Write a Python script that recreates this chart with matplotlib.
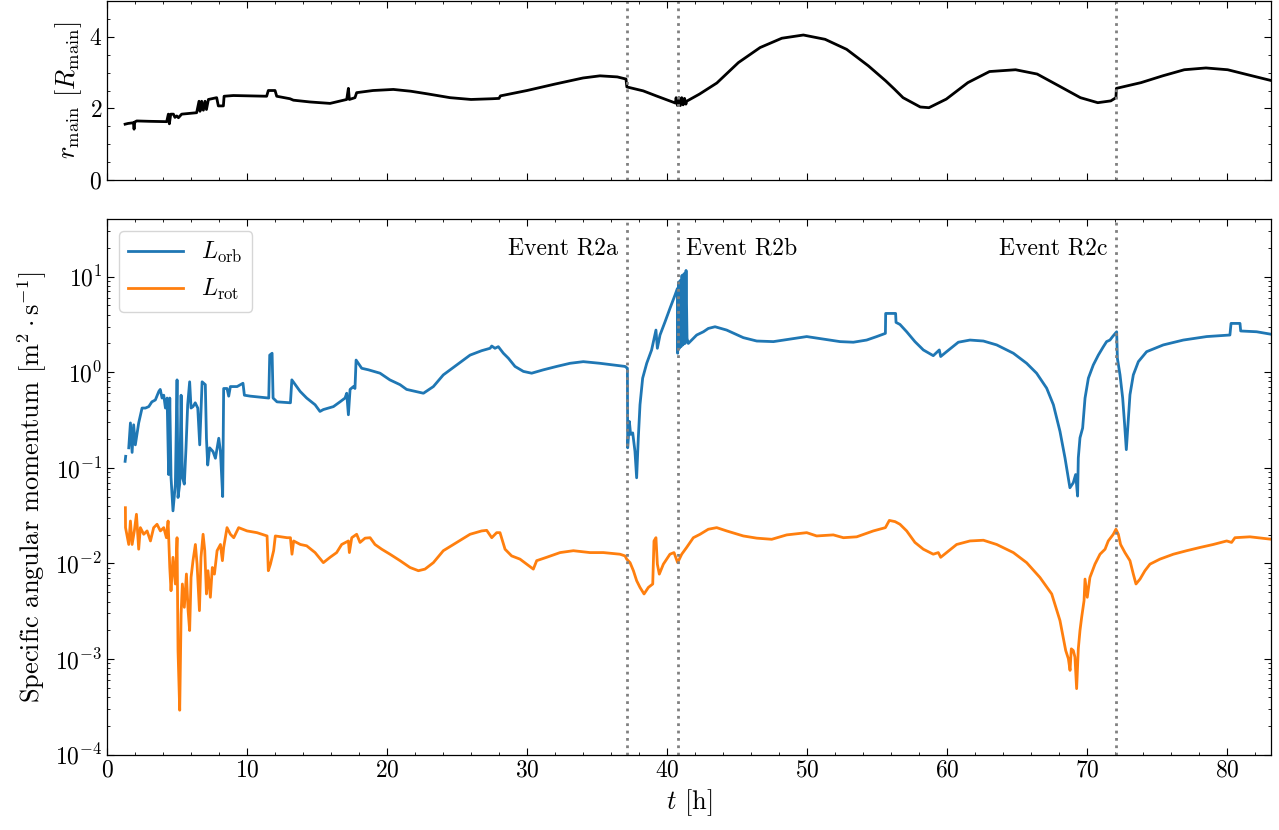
import numpy as np
import matplotlib
matplotlib.use('Agg')
import matplotlib.pyplot as plt
from matplotlib.ticker import MultipleLocator
import matplotlib.transforms as mtransforms

# --- data ---
t_r = [1.29, 1.5, 1.88, 1.93, 1.98, 2.12, 3.0, 4.26, 4.38, 4.45, 4.55, 4.74, 4.85, 4.98, 5.1,
       5.33, 6.4, 6.57, 6.64, 6.76, 6.88, 7.0, 7.1, 7.24, 7.83, 7.95, 8.31, 8.36, 9.02, 11.4,
       11.52, 12.0, 12.12, 13.07, 13.31, 14.5, 15.93, 17.12, 17.24, 17.31, 17.71, 17.83, 19.0,
       20.45, 21.7, 22.83, 24.5, 26.0, 27.5, 28.0, 28.1, 30.0, 32.0, 34.0, 35.21, 36.45, 37.07,
       37.13, 38.3, 39.23, 40.6, 40.65, 40.75, 40.85, 40.95, 41.05, 41.15, 41.25, 41.35, 41.4,
       42.32, 43.56, 45.1, 46.65, 48.2, 49.74, 51.29, 52.83, 54.38, 55.62, 56.24, 56.86, 58.09,
       58.71, 59.95, 61.49, 63.04, 64.9, 66.44, 67.99, 69.53, 70.77, 71.7, 72.07, 72.1, 73.86,
       75.41, 76.95, 78.5, 80.05, 81.59, 83.14]
r_main = [1.56, 1.58, 1.60, 1.42, 1.62, 1.65, 1.64, 1.63, 1.84, 1.57, 1.84, 1.84, 1.75, 1.79, 1.74,
          1.84, 1.88, 2.20, 1.92, 2.20, 1.95, 2.20, 1.97, 2.25, 2.30, 2.07, 2.07, 2.34, 2.36, 2.34,
          2.50, 2.50, 2.34, 2.27, 2.23, 2.18, 2.14, 2.25, 2.56, 2.25, 2.30, 2.44, 2.50,
          2.53, 2.48, 2.41, 2.30, 2.25, 2.27, 2.28, 2.35, 2.50, 2.68, 2.85, 2.91, 2.88, 2.82,
          2.60, 2.49, 2.35, 2.15, 2.30, 2.08, 2.30, 2.08, 2.30, 2.10, 2.28, 2.12, 2.20,
          2.40, 2.71, 3.28, 3.70, 3.96, 4.05, 3.93, 3.65, 3.19, 2.77, 2.54, 2.30, 2.04,
          2.02, 2.26, 2.72, 3.03, 3.08, 2.96, 2.63, 2.30, 2.16, 2.21, 2.30, 2.56, 2.72,
          2.91, 3.08, 3.13, 3.08, 2.93, 2.78]

t_orb = [1.29, 1.33, 1.45, 1.55, 1.67, 1.79, 1.90, 2.02, 2.26, 2.50, 2.74, 2.98, 3.20, 3.45, 3.70,
         3.80, 3.93, 4.05, 4.17, 4.29, 4.40, 4.48, 4.57, 4.71, 4.88, 5.00, 5.07, 5.19, 5.29,
         5.38, 5.52, 5.64, 5.76, 5.90, 6.00, 6.14, 6.30, 6.48, 6.62, 6.79, 6.90, 7.02, 7.10,
         7.19, 7.33, 7.57, 7.74, 7.98, 8.10, 8.26, 8.33, 8.57, 8.69, 8.81, 9.29, 9.71, 9.81,
         10.24, 11.55, 11.62, 11.79, 11.86, 12.14, 13.10, 13.20, 13.45, 13.79, 14.26, 14.86,
         15.21, 15.45, 16.17, 16.64, 17.00, 17.12, 17.24, 17.36, 17.60, 17.71, 17.79, 17.95,
         18.19, 18.67, 19.50, 20.20, 20.93, 21.40, 22.00, 22.60, 23.31, 24.02, 24.98, 25.93,
         26.76, 27.36, 27.48, 27.71, 27.95, 28.31, 28.67, 29.14, 29.74, 30.33, 31.17, 32.12,
         33.07, 34.02, 35.21, 36.17, 37.00, 37.17, 37.19, 37.31, 37.40, 37.55, 37.71, 37.83,
         37.95, 38.07, 38.26, 38.55, 38.90, 39.21, 39.31, 39.50, 39.86, 40.21, 40.57, 40.74,
         40.76, 40.83, 40.88, 40.95, 41.00, 41.07, 41.14, 41.21, 41.29, 41.36, 41.43, 41.52,
         41.76, 42.12, 42.60, 42.95, 43.43, 44.26, 45.45, 46.41, 47.60, 48.79, 49.98, 51.17,
         52.36, 53.31, 54.26, 54.98, 55.60, 55.62, 56.33, 56.36, 56.64, 57.12, 57.71, 58.31,
         59.02, 59.45, 59.55, 59.97, 60.81, 61.64, 62.60, 63.55, 64.74, 65.69, 66.40, 67.12,
         67.60, 68.07, 68.43, 68.78, 69.02, 69.19, 69.33, 69.38, 69.50, 69.69, 69.86, 70.10,
         70.45, 70.81, 71.17, 71.40, 71.64, 71.83, 72.12, 72.17, 72.36, 72.55, 72.69, 72.81,
         72.93, 73.07, 73.31, 73.67, 74.26, 75.45, 76.88, 78.55, 80.21, 80.29, 80.93, 80.98,
         82.12, 83.19]
L_orb = [0.117, 0.132, np.nan, 0.162, 0.295, 0.145, 0.282, 0.174, 0.295, 0.422, 0.422, 0.437, 0.49, 0.513, 0.631,
         0.661, 0.537, 0.575, 0.422, 0.537, 0.0851, 0.537, 0.0794, 0.0355, 0.0676, 0.832, 0.049, 0.0676, 0.575,
         0.0794, 0.0676, 0.162, 0.457, 0.794, 0.422, 0.437, 0.479, 0.422, 0.174, 0.794, 0.767, 0.741, 0.204,
         0.107, 0.162, 0.148, 0.126, 0.204, 0.148, 0.0501, 0.676, 0.676, 0.562, 0.708, 0.708, 0.767, 0.575,
         0.562, 0.537, 1.51, 1.58, 0.537, 0.49, 0.479, 0.832, 0.741, 0.631, 0.537, 0.457,
         0.389, 0.407, 0.437, 0.49, 0.537, 0.603, 0.359, 0.661, 0.708, 0.676, 1.34, 1.24,
         1.10, 1.06, 0.977, 0.832, 0.741, 0.661, 0.631, 0.603, 0.708, 0.938, 1.19, 1.51,
         1.68, 1.78, 1.88, 1.78, 1.85, 1.58, 1.40, 1.15, 1.02, 0.977, 1.06, 1.15,
         1.24, 1.29, 1.24, 1.19, 1.15, 1.10, 0.162, 0.306, 0.224, 0.232, 0.149, 0.0787,
         0.206, 0.457, 0.867, 1.24, 1.71, 2.76, 1.78, 2.45, 3.37, 4.65, 6.40, 7.50,
         1.58, 8.79, 1.78, 9.12, 1.85, 10.3, 1.93, 10.7, 2.0, 11.6, 2.26, 2.0,
         2.17, 2.45, 2.65, 2.87, 2.99, 2.76, 2.30, 2.12, 2.09, 2.22, 2.36, 2.22,
         2.09, 2.06, 2.17, 2.36, 2.55, 4.12, 4.12, 3.32, 3.16, 2.65, 2.09, 1.71,
         1.49, 1.71, 1.46, 1.64, 2.06, 2.17, 2.12, 1.93, 1.58, 1.24, 0.977, 0.681,
         0.457, 0.241, 0.127, 0.0619, 0.0698, 0.0851, 0.0507, 0.127, 0.206, 0.261, 0.536, 0.867,
         1.19, 1.51, 1.85, 2.09, 2.17, 2.36, 2.65, 1.40, 0.938, 0.536, 0.282, 0.155,
         0.282, 0.581, 0.938, 1.29, 1.64, 1.93, 2.17, 2.36, 2.45, 3.24, 3.24, 2.70,
         2.65, 2.49]

t_rot = [1.31, 1.32, 1.55, 1.67, 1.79, 1.95, 2.10, 2.26, 2.38, 2.62, 2.86, 3.10, 3.33, 3.57, 3.81,
         4.05, 4.24, 4.36, 4.48, 4.57, 4.71, 4.88, 5.00, 5.07, 5.19, 5.29, 5.38, 5.52, 5.67,
         5.79, 5.90, 6.00, 6.14, 6.31, 6.43, 6.60, 6.71, 6.86, 6.98, 7.10, 7.21, 7.38, 7.52,
         7.67, 7.86, 8.10, 8.24, 8.33, 8.57, 8.81, 9.05, 9.40, 10.00, 10.71, 11.43, 11.52,
         11.67, 11.90, 12.02, 12.86, 13.10, 13.21, 13.33, 13.81, 14.26, 14.86, 15.45, 15.93,
         16.40, 16.76, 17.24, 17.31, 17.48, 17.83, 18.07, 18.43, 18.79, 19.14, 19.62, 20.21,
         20.93, 21.64, 22.24, 22.71, 23.31, 24.02, 24.98, 25.93, 26.76, 27.12, 27.48, 27.83,
         28.07, 28.43, 28.90, 29.50, 29.98, 30.45, 30.69, 31.40, 32.36, 33.31, 34.50, 35.45,
         36.64, 37.00, 37.12, 37.36, 37.60, 37.83, 38.07, 38.36, 38.67, 38.98, 39.07, 39.21,
         39.31, 39.45, 39.74, 40.21, 40.50, 40.76, 41.05, 41.40, 41.88, 42.36, 42.95, 43.55,
         44.26, 45.45, 46.41, 47.48, 48.55, 49.98, 50.69, 51.88, 52.60, 53.55, 54.74, 55.60,
         55.88, 56.29, 56.64, 57.12, 57.71, 58.31, 59.02, 59.38, 59.55, 59.97, 60.69, 61.64,
         62.60, 63.55, 64.74, 65.69, 66.64, 67.48, 68.07, 68.48, 68.67, 68.79, 68.88, 69.02,
         69.14, 69.26, 69.38, 69.50, 69.62, 69.79, 69.86, 70.02, 70.21, 70.57, 70.93, 71.29,
         71.52, 71.88, 72.07, 72.24, 72.40, 72.71, 73.07, 73.31, 73.50, 73.79, 74.14, 74.50,
         75.21, 76.17, 77.12, 78.07, 79.02, 79.98, 80.33, 80.57, 81.64, 83.19]
L_rot = [0.0383, 0.0237, 0.0158, 0.0278, 0.0158, 0.0219, 0.0327, 0.0141, 0.0237, 0.0202, 0.0219, 0.0172, 0.0237, 0.0257, 0.0219,
         0.0237, 0.0186, 0.0278, 0.00912, 0.00519, 0.0116, 0.0061, 0.0186, 0.00123, 0.000292, 0.00296, 0.0061, 0.00348, 0.00776,
         0.00321, 0.00199, 0.00714, 0.0107, 0.0158, 0.00984, 0.00321, 0.0116, 0.0202, 0.0136, 0.0048, 0.0084, 0.00443, 0.00908,
         0.00774, 0.0136, 0.0158, 0.0107, 0.0147, 0.0237, 0.0202, 0.0186, 0.0237, 0.0219, 0.021, 0.0194, 0.0084,
         0.00984, 0.0136, 0.0194, 0.0186, 0.0186, 0.0125, 0.0172, 0.0158, 0.0153, 0.013, 0.0102, 0.0116,
         0.013, 0.0158, 0.0172, 0.013, 0.0186, 0.0202, 0.0166, 0.0184, 0.0186, 0.0158, 0.0141, 0.0125,
         0.0107, 0.00908, 0.0084, 0.00873, 0.0102, 0.0136, 0.0166, 0.0202, 0.0219, 0.0222, 0.0186, 0.021,
         0.021, 0.0141, 0.012, 0.0111, 0.00984, 0.00873, 0.0107, 0.0116, 0.013, 0.0136, 0.013, 0.013,
         0.0125, 0.012, 0.0111, 0.0102, 0.0084, 0.00661, 0.00562, 0.0048, 0.00562, 0.0061, 0.0172, 0.0186,
         0.00984, 0.00774, 0.00984, 0.0125, 0.013, 0.0102, 0.0125, 0.0147, 0.0186, 0.0202, 0.0228, 0.0237,
         0.0219, 0.0194, 0.0184, 0.0179, 0.0199, 0.021, 0.0194, 0.0199, 0.0186, 0.019, 0.0219, 0.0237,
         0.0282, 0.0274, 0.0257, 0.0219, 0.0166, 0.0141, 0.0125, 0.013, 0.0116, 0.013, 0.0158, 0.0172,
         0.0175, 0.0158, 0.013, 0.0102, 0.00714, 0.0048, 0.00253, 0.00123, 0.00101, 0.000762, 0.00128, 0.00123,
         0.00105, 0.000491, 0.00128, 0.00199, 0.00274, 0.00408, 0.00687, 0.00443, 0.00714, 0.00984, 0.0125, 0.0141,
         0.0172, 0.0202, 0.0228, 0.0202, 0.0158, 0.013, 0.0107, 0.00774, 0.0061, 0.00687, 0.0084, 0.00984,
         0.0111, 0.0125, 0.0136, 0.0147, 0.0158, 0.0172, 0.0166, 0.0186, 0.019, 0.0179]

events = [37.12, 40.78, 72.07]
event_labels = ['Event R2a', 'Event R2b', 'Event R2c']
event_side = ['left', 'right', 'left']

plt.rcParams.update({
    'font.family': 'serif',
    'font.serif': ['cmr10'],
    'mathtext.fontset': 'cm',
    'axes.formatter.use_mathtext': True,
    'axes.unicode_minus': False,
    'font.size': 17,
    'axes.labelsize': 19,
    'xtick.direction': 'in',
    'ytick.direction': 'in',
    'xtick.top': True,
    'ytick.right': True,
    'xtick.minor.visible': True,
    'ytick.minor.visible': True,
    'xtick.major.size': 5,
    'ytick.major.size': 5,
    'xtick.minor.size': 2.5,
    'ytick.minor.size': 2.5,
    'axes.linewidth': 0.9,
})

fig = plt.figure(figsize=(12.79, 8.3), dpi=100)
ax1 = fig.add_axes([0.0837, 0.7831, 0.9101, 0.2157])
ax2 = fig.add_axes([0.0837, 0.0907, 0.9101, 0.6454], sharex=ax1)

ax1.plot(t_r, r_main, color='k', lw=2)
ax1.set_ylim(0, 5)
ax1.yaxis.set_major_locator(MultipleLocator(2))
ax1.yaxis.set_minor_locator(MultipleLocator(0.5))
ax1.set_ylabel(r'$r_{\rm main}$ $[R_{\rm main}]$')
plt.setp(ax1.get_xticklabels(), visible=False)

ax2.plot(t_orb, L_orb, color='#1f77b4', lw=2, label=r'$L_{\rm orb}$')
ax2.plot(t_rot, L_rot, color='#ff7f0e', lw=2, label=r'$L_{\rm rot}$')
ax2.set_yscale('log')
ax2.set_ylim(1e-4, 40)
ax2.set_xlim(0, 83.15)
ax2.xaxis.set_major_locator(MultipleLocator(10))
ax2.xaxis.set_minor_locator(MultipleLocator(2))
ax2.set_xlabel(r'$t$ [h]')
ax2.set_ylabel(r'Specific angular momentum $[\mathrm{m}^2 \cdot \mathrm{s}^{-1}]$')

trans = mtransforms.blended_transform_factory(ax2.transData, ax2.transAxes)
for x, lab, side in zip(events, event_labels, event_side):
    for ax in (ax1, ax2):
        ax.axvline(x, color='gray', ls=':', lw=2)
    if side == 'left':
        ax2.text(x - 0.6, 0.946, lab, transform=trans, ha='right', va='center')
    else:
        ax2.text(x + 0.55, 0.946, lab, transform=trans, ha='left', va='center')

ax2.legend(loc='upper left', handlelength=2.3)

fig.savefig('out.png', dpi=100)
